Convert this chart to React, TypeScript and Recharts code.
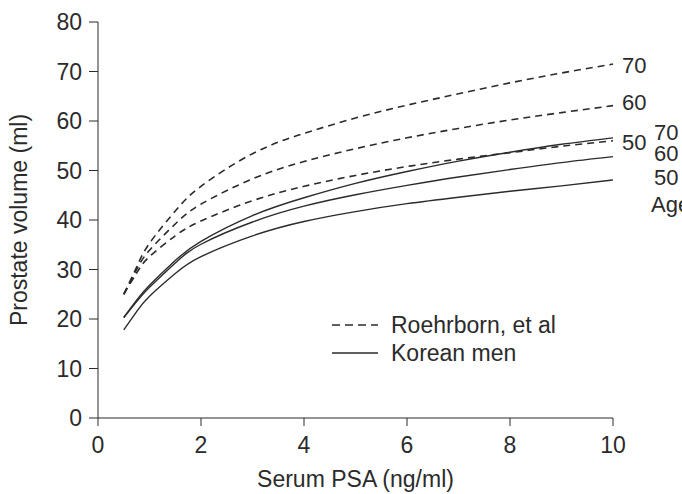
import { LineChart, Line, XAxis, YAxis } from 'recharts';

const psa = [0.5, 0.75, 1, 1.5, 2, 3, 4, 5, 6, 7, 8, 9, 10];

// Roehrborn, et al (dashed)
const roehrborn70 = [25, 30.5, 35.3, 41.8, 46.8, 53.4, 57.5, 60.6, 63.2, 65.5, 67.7, 69.7, 71.5];
const roehrborn60 = [25, 30, 33.9, 39.2, 43.2, 48.3, 51.8, 54.4, 56.6, 58.5, 60.2, 61.7, 63.1];
const roehrborn50 = [25, 29.3, 32.6, 36.8, 39.8, 43.9, 46.8, 49, 50.8, 52.3, 53.6, 54.9, 56];

// Korean men (solid)
const korean70 = [20.3, 23.8, 26.8, 31.8, 35.7, 40.9, 44.5, 47.4, 49.8, 51.9, 53.7, 55.3, 56.6];
const korean60 = [20.3, 23.5, 26.4, 31.3, 35.1, 39.6, 42.8, 45.1, 47, 48.7, 50.2, 51.6, 52.8];
const korean50 = [17.8, 21.5, 24.6, 29.2, 32.6, 36.8, 39.7, 41.7, 43.3, 44.6, 45.8, 46.9, 48.1];

const xTicks = [0, 2, 4, 6, 8, 10];
const yTicks = [0, 10, 20, 30, 40, 50, 60, 70, 80];

const chartData = psa.map((x, i) => ({
  psa: x,
  r70: roehrborn70[i],
  r60: roehrborn60[i],
  r50: roehrborn50[i],
  k70: korean70[i],
  k60: korean60[i],
  k50: korean50[i],
}));

const INK = '#2b2b2b';
const FONT = 'Liberation Sans, Arial, sans-serif';
const DASH = '7 5';
const FS = 23;
const END_FS = 22;

const endLabel = (text: string, dx: number, dy: number, extra?: string) => (props: any) => {
  if (props.index !== psa.length - 1) return null;
  return (
    <g>
      <text x={props.x + dx} y={props.y + dy} fontSize={END_FS} fontFamily={FONT} fill={INK} dominantBaseline="central">
        {text}
      </text>
      {extra && (
        <text x={props.x + dx - 3} y={props.y + dy + 27} fontSize={END_FS} fontFamily={FONT} fill={INK} dominantBaseline="central">
          {extra}
        </text>
      )}
    </g>
  );
};

function LegendBox() {
  return (
    <svg width={260} height={60} style={{ position: 'absolute', left: 332, top: 310 }}>
      <line x1={0} y1={15} x2={46} y2={15} stroke={INK} strokeWidth={1.6} strokeDasharray="8 5" />
      <text x={59} y={15} fontSize={FS} fontFamily={FONT} fill={INK} dominantBaseline="central">Roehrborn, et al</text>
      <line x1={0} y1={43} x2={46} y2={43} stroke={INK} strokeWidth={1.6} />
      <text x={59} y={43} fontSize={FS} fontFamily={FONT} fill={INK} dominantBaseline="central">Korean men</text>
    </svg>
  );
}

export default function App() {
  const tickStyle = { fontSize: 23, fontFamily: FONT, fill: INK };
  return (
    <div style={{ position: 'absolute', left: 0, top: 0, width: 682, height: 494, background: '#fff', overflow: 'hidden' }}>
      <LineChart width={682} height={494} data={chartData} margin={{ top: 22, right: 69, bottom: 0, left: 0 }}>
        <XAxis
          dataKey="psa"
          type="number"
          domain={[0, 10]}
          ticks={xTicks}
          height={76}
          tick={tickStyle}
          tickSize={8}
          tickMargin={11}
          stroke={INK}
          label={{ value: 'Serum PSA (ng/ml)', position: 'insideBottom', offset: 7, style: { ...tickStyle, fontSize: FS } }}
        />
        <YAxis
          type="number"
          domain={[0, 80]}
          ticks={yTicks}
          width={98}
          tick={tickStyle}
          tickSize={9}
          tickMargin={7}
          stroke={INK}
          label={{ value: 'Prostate volume (ml)', angle: -90, position: 'insideLeft', offset: 19, style: { ...tickStyle, fontSize: FS, textAnchor: 'middle' } }}
        />
        <Line dataKey="r70" type="natural" stroke={INK} strokeWidth={1.6} strokeDasharray={DASH} dot={false} isAnimationActive={false} label={endLabel('70', 9, 1)} />
        <Line dataKey="r60" type="natural" stroke={INK} strokeWidth={1.6} strokeDasharray={DASH} dot={false} isAnimationActive={false} label={endLabel('60', 9, -3)} />
        <Line dataKey="r50" type="natural" stroke={INK} strokeWidth={1.6} strokeDasharray={DASH} dot={false} isAnimationActive={false} label={endLabel('50', 9, 2)} />
        <Line dataKey="k70" type="natural" stroke={INK} strokeWidth={1.4} dot={false} isAnimationActive={false} label={endLabel('70', 41, -5)} />
        <Line dataKey="k60" type="natural" stroke={INK} strokeWidth={1.4} dot={false} isAnimationActive={false} label={endLabel('60', 41, -3)} />
        <Line dataKey="k50" type="natural" stroke={INK} strokeWidth={1.4} dot={false} isAnimationActive={false} label={endLabel('50', 41, -2, 'Age')} />
      </LineChart>
      <LegendBox />
    </div>
  );
}
